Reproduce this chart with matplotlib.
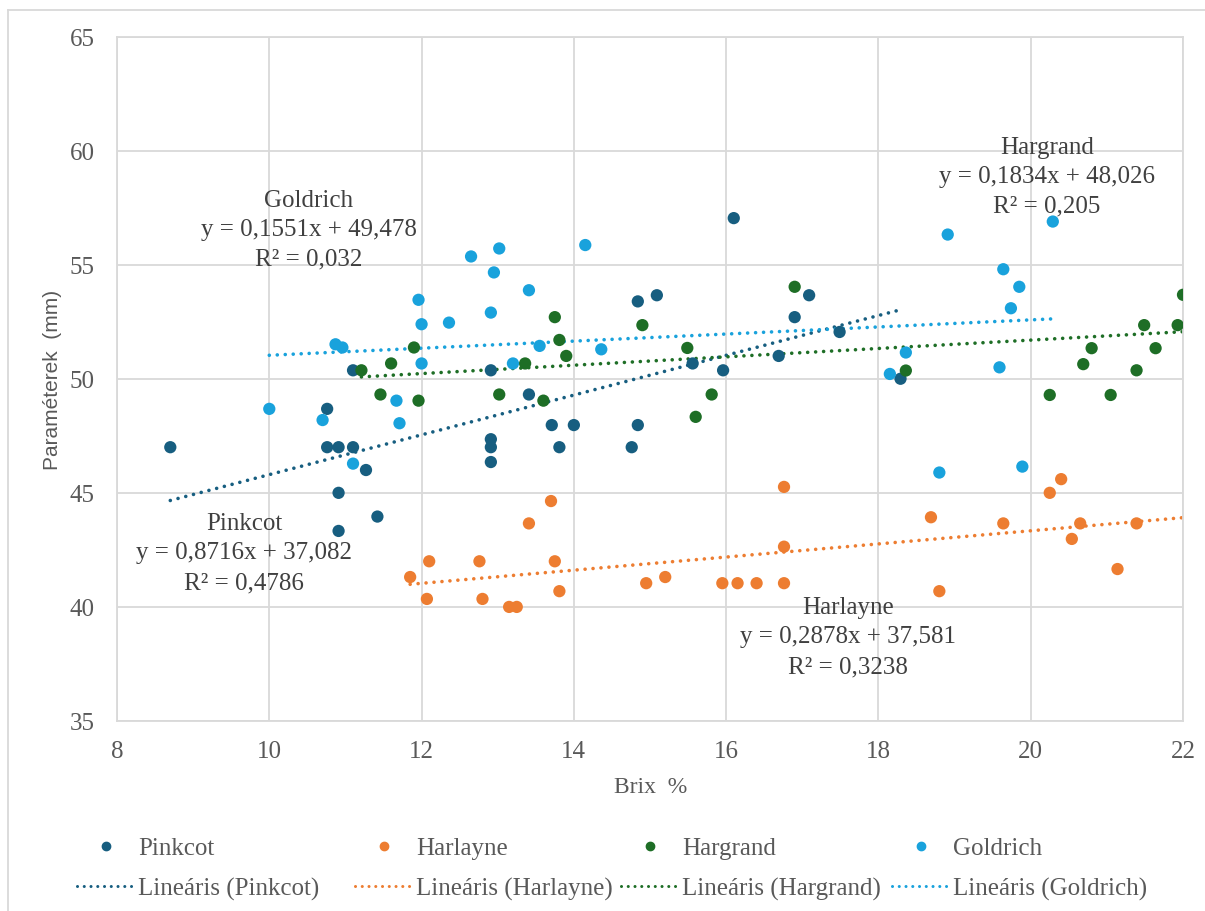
import matplotlib
matplotlib.use("Agg")
import matplotlib.pyplot as plt
import numpy as np
from matplotlib.lines import Line2D

# ---------------- data ----------------
pinkcot_x = [8.70, 10.76, 10.76, 10.91, 11.10, 11.10, 11.27, 10.91, 11.42, 10.91,
             12.91, 12.91, 12.91, 12.91, 13.41, 13.71, 13.81, 14.00, 14.76, 14.84,
             14.84, 15.09, 15.56, 15.96, 16.10, 16.69, 16.90, 17.09, 17.49, 18.29]
pinkcot_y = [47.0, 48.68, 47.0, 47.0, 47.0, 50.37, 46.0, 45.0, 43.96, 43.33,
             50.37, 47.35, 47.0, 46.35, 49.31, 47.97, 47.0, 47.97, 47.0, 47.97,
             53.39, 53.66, 50.67, 50.37, 57.04, 51.0, 52.70, 53.66, 52.05, 50.0]

harlayne_x = [11.85, 12.07, 12.10, 12.76, 12.80, 13.15, 13.25, 13.41, 13.70, 13.75,
              13.81, 14.95, 15.20, 15.95, 16.15, 16.40, 16.76, 16.76, 16.76, 18.69,
              18.80, 19.64, 20.25, 20.40, 20.54, 20.65, 21.14, 21.39]
harlayne_y = [41.31, 40.35, 42.0, 42.0, 40.35, 40.0, 40.0, 43.66, 44.64, 42.0,
              40.69, 41.04, 41.31, 41.04, 41.04, 41.04, 41.04, 42.64, 45.26, 43.93,
              40.69, 43.66, 45.0, 45.6, 42.98, 43.66, 41.66, 43.66]

hargrand_x = [11.21, 11.46, 11.60, 11.90, 11.96, 13.02, 13.36, 13.60, 13.75, 13.81,
              13.90, 14.90, 15.49, 15.60, 15.81, 16.90, 18.36, 20.25, 20.69, 20.80,
              21.05, 21.39, 21.49, 21.64, 21.93, 22.00]
hargrand_y = [50.37, 49.31, 50.67, 51.37, 49.04, 49.31, 50.67, 49.04, 52.70, 51.70,
              51.0, 52.35, 51.35, 48.33, 49.31, 54.03, 50.36, 49.29, 50.64, 51.34,
              49.29, 50.37, 52.35, 51.34, 52.35, 53.68]

goldrich_x = [10.00, 10.70, 10.87, 10.96, 11.10, 11.67, 11.71, 11.96, 12.00, 12.00,
              12.36, 12.65, 12.91, 12.95, 13.02, 13.20, 13.41, 13.55, 14.15, 14.36,
              18.15, 18.36, 18.80, 18.91, 19.59, 19.64, 19.74, 19.85, 19.89, 20.29]
goldrich_y = [48.68, 48.19, 51.51, 51.37, 46.28, 49.04, 48.05, 53.46, 52.39, 50.67,
              52.46, 55.36, 52.90, 54.66, 55.71, 50.67, 53.88, 51.44, 55.86, 51.29,
              50.21, 51.15, 45.89, 56.32, 50.50, 54.80, 53.09, 54.03, 46.15, 56.89]

series_names = ["Pinkcot", "Harlayne", "Hargrand", "Goldrich"]
slopes = [0.8716, 0.2878, 0.1834, 0.1551]
intercepts = [37.082, 37.581, 48.026, 49.478]
r2_labels = ["0,4786", "0,3238", "0,205", "0,032"]
eq_labels = ["y = 0,8716x + 37,082", "y = 0,2878x + 37,581",
             "y = 0,1834x + 48,026", "y = 0,1551x + 49,478"]
trend_end = [None, 22.0, None, None]  # Harlayne trendline reaches axis end

x_ticks = [8, 10, 12, 14, 16, 18, 20, 22]
y_ticks = [35, 40, 45, 50, 55, 60, 65]

colors = ["#175E80", "#ED7D31", "#1E6E26", "#19A2DC"]

# ---------------- figure ----------------
W, H = 1205, 912
fig = plt.figure(figsize=(W / 100, H / 100), dpi=100)
serif = "Liberation Serif"
txtc = "#595959"
anc = "#404040"

def fx(px):
    return px / W

def fy(py):
    return 1 - py / H

ax = fig.add_axes([fx(117), fy(722), fx(1183) - fx(117), fy(37.5) - fy(722)])

xs = [pinkcot_x, harlayne_x, hargrand_x, goldrich_x]
ys = [pinkcot_y, harlayne_y, hargrand_y, goldrich_y]

for i in range(4):
    ax.scatter(xs[i], ys[i], s=78, color=colors[i], edgecolors="none", zorder=3)

dot_style = (0, (0.01, 2.2))
for i in range(4):
    x0 = min(xs[i])
    x1 = trend_end[i] if trend_end[i] is not None else max(xs[i])
    tx = np.array([x0, x1])
    ty = slopes[i] * tx + intercepts[i]
    ax.plot(tx, ty, color=colors[i], lw=2.6, linestyle=dot_style,
            dash_capstyle="round", zorder=2)

ax.set_xlim(8, 22)
ax.set_ylim(35, 65)
ax.set_xticks(x_ticks)
ax.set_yticks(y_ticks)
ax.set_xticklabels([str(t) for t in x_ticks], fontfamily=serif, fontsize=18, color=txtc)
ax.set_yticklabels([str(t) for t in y_ticks], fontfamily=serif, fontsize=18, color=txtc)
ax.tick_params(length=0)
ax.tick_params(axis="y", pad=16)
ax.tick_params(axis="x", pad=14)
ax.grid(True, color="#D9D9D9", lw=1.3, zorder=0)
ax.set_axisbelow(True)
for sp in ax.spines.values():
    sp.set_color("#D9D9D9")
    sp.set_linewidth(1.3)

# axis labels
fig.text(fx(651), fy(788), "Brix  %", ha="center", va="center",
         fontfamily=serif, fontsize=17, color=txtc)
fig.text(fx(53), fy(380), "Paraméterek  (mm)", ha="center", va="center",
         rotation=90, fontfamily="Liberation Sans", fontsize=15, color=txtc)

# trendline annotations
ann_pos = {
    "Pinkcot": (244, [524, 553, 583]),
    "Harlayne": (848, [608, 637, 667]),
    "Hargrand": (1047, [148, 177, 206]),
    "Goldrich": (309, [201, 230, 259]),
}
for i, name in enumerate(series_names):
    cx, rows = ann_pos[name]
    lines = [name, eq_labels[i], "R² = " + r2_labels[i]]
    for t, ry in zip(lines, rows):
        fig.text(fx(cx), fy(ry), t, ha="center", va="center",
                 fontfamily=serif, fontsize=18, color=anc)

# legend: one small legend per column
col_left = [77, 355, 621, 892]
for i, name in enumerate(series_names):
    h1 = Line2D([], [], linestyle="none", marker="o", markersize=6,
                color=colors[i])
    h2 = Line2D([], [], color=colors[i], lw=2.2, linestyle=dot_style,
                dash_capstyle="round")
    fig.legend([h1, h2], [name, f"Lineáris ({name})"], loc="upper left",
               bbox_to_anchor=(fx(col_left[i]), fy(838)), frameon=False,
               borderpad=0, borderaxespad=0, handlelength=2.3,
               handletextpad=0.15, labelspacing=0.7,
               prop={"family": serif, "size": 18}, labelcolor=txtc)

# outer chart border (light grey)
fig.add_artist(Line2D([fx(8), fx(8)], [fy(11), 0], color="#D9D9D9", lw=1.3))
fig.add_artist(Line2D([fx(8), 1], [fy(11), fy(11)], color="#D9D9D9", lw=1.3))

fig.savefig("out.png", dpi=100)
